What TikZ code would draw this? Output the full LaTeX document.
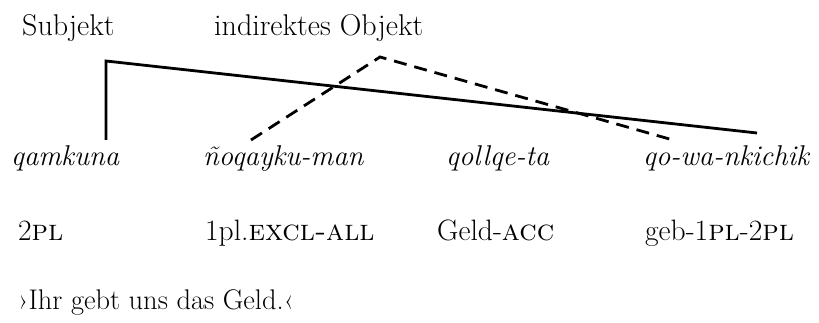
\documentclass[tikz,border=0pt]{standalone}
\begin{document}
\begin{tikzpicture}[x=1pt,y=1pt,
  head/.style={anchor=base west,inner sep=0pt,font=\fontsize{30}{33}\selectfont},
  word/.style={anchor=base west,inner sep=0pt,font=\fontsize{28.6}{31}\selectfont\itshape},
  gloss/.style={anchor=base west,inner sep=0pt,font=\fontsize{29.5}{32}\selectfont},
  transl/.style={anchor=base west,inner sep=0pt,font=\fontsize{28.4}{31}\selectfont},
  subjline/.style={line width=2.8pt},
  objline/.style={line width=2.8pt,dash pattern=on 13pt off 8pt}]
\useasboundingbox (0,0) rectangle (819,323);
% headings
\node[head] (subj) at (22,287) {Subjekt};
\node[head] (iobj) at (214,287) {indirektes Objekt};
% words
\node[word] (w1) at (11,157) {qamkuna};
\node[word] (w2) at (203,157) {ñoqayku-man};
\node[word] (w3) at (446,157) {qollqe-ta};
\node[word] (w4) at (643,157) {qo-wa-nkichik};
% glosses
\node[gloss] (g1) at (18,82) {2\textsc{pl}};
\node[gloss] (g2) at (205,82) {1pl.\textsc{excl-all}};
\node[gloss] (g3) at (437,82) {Geld-\textsc{acc}};
\node[gloss] (g4) at (645,82) {geb-1\textsc{pl}-2\textsc{pl}};
% translation
\node[transl] (tr) at (18,13) {›Ihr gebt uns das Geld.‹};
% lines
\coordinate (s0) at (106,183);
\coordinate (s1) at (106,262);
\coordinate (s2) at (757,190);
\coordinate (o0) at (251,183);
\coordinate (o1) at (380,266);
\coordinate (o2) at (673,183);
\draw[subjline] (s0) -- (s1) -- (s2);
\draw[objline] (o0) -- (o1) -- (o2);
\end{tikzpicture}
\end{document}
